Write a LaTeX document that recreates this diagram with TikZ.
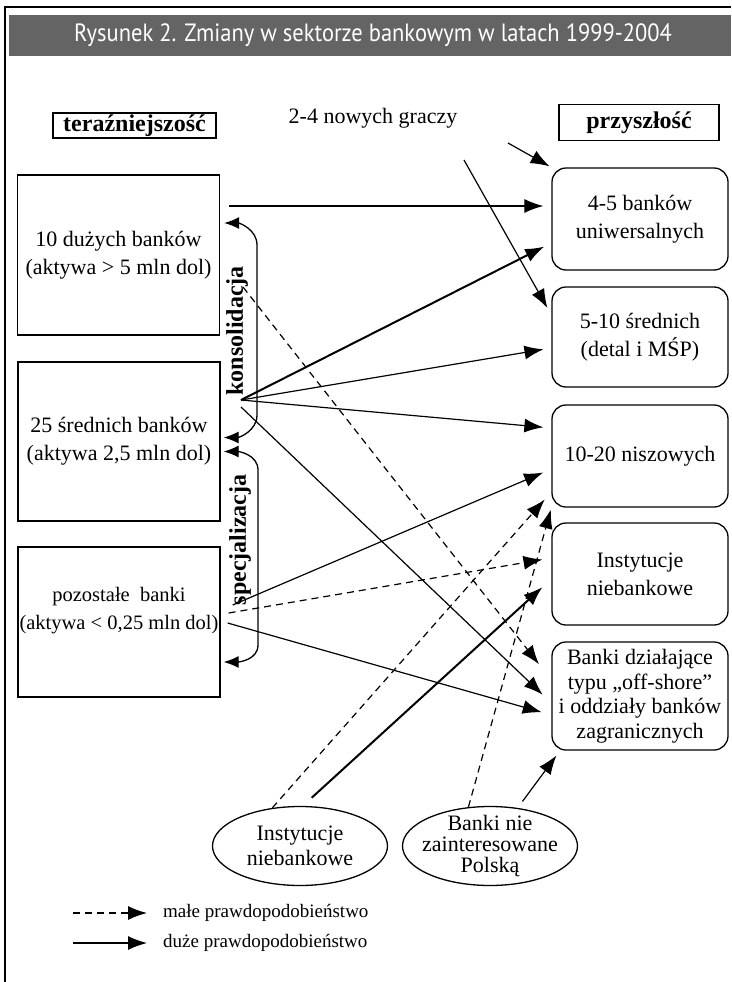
\documentclass[tikz,border=0pt]{standalone}
\usepackage{fontspec}
\setmainfont{Liberation Serif}
\newfontfamily\titlefont[FakeStretch=0.9]{PT Sans}
\usetikzlibrary{positioning,arrows.meta,shapes.geometric}
\definecolor{bandgray}{HTML}{646464}

\begin{document}
\begin{tikzpicture}[x=1pt,y=-1pt,
  every node/.style={font=\fontsize{22}{28}\selectfont},
  now/.style={draw,line width=1.3pt,minimum width=202pt,inner sep=0pt,align=center},
  later/.style={draw,line width=1.3pt,rounded corners=14pt,minimum width=176pt,
    inner sep=0pt,align=center},
  src/.style={draw,ellipse,line width=1.3pt,minimum width=175pt,minimum height=79pt,
    inner xsep=-8pt,inner ysep=-5pt,align=center},
  hdr/.style={draw,line width=1.1pt,inner sep=0pt,font=\fontsize{24}{28}\selectfont\bfseries},
  arr/.style={-{Latex[length=19pt,width=14pt]},line width=1.2pt,shorten >=8pt},
  big/.style={arr,line width=2pt},
  weak/.style={arr,dash pattern=on 7pt off 5pt},
  brace/.style={{Latex[length=15pt,width=12pt]}-{Latex[length=15pt,width=12pt]},line width=1.3pt},
  lbl/.style={font=\fontsize{24}{28}\selectfont\bfseries,rotate=90}]
\useasboundingbox (0,0) rectangle (731,982);

% --- frame and title band ---
\draw[line width=1.2pt] (5,982) -- (5,7) -- (731,7);
\fill[bandgray] (9,15) rectangle (731,56);
\node[font=\fontsize{25}{28}\titlefont,text=white] (title) at (373,35)
  {Rysunek 2. Zmiany w sektorze bankowym w latach 1999-2004};

% --- column heads ---
\node[hdr,minimum width=163pt,minimum height=25pt] (present) at (134.5,125.5) {teraźniejszość};
\node[hdr,minimum width=160pt,minimum height=36pt] (future) at (639,122.5) {przyszłość};
\node (players) at (373,118) {2-4 nowych graczy};

% --- today ---
\node[now,minimum height=160pt] (big10) at (118.5,255) {10 dużych banków\\(aktywa > 5 mln dol)};
\node[now,minimum height=159pt] (mid25) at (119,441.5) {25 średnich banków\\(aktywa 2,5 mln dol)};
\node[now,minimum height=150pt,text depth=27pt,font=\fontsize{20.5}{28}\selectfont] (rest) at (119,622)
  {pozostałe\ \ banki\\(aktywa < 0,25 mln dol)};

% --- tomorrow ---
\node[later,minimum height=102pt] (univ) at (640,219) {4-5 banków\\uniwersalnych};
\node[later,minimum height=100pt] (retail) at (640,337) {5-10 średnich\\(detal i MŚP)};
\node[later,minimum height=102pt] (niche) at (640,456) {10-20 niszowych};
\node[later,minimum height=102pt] (nonbank) at (640,574) {Instytucje\\niebankowe};
\node[later,minimum height=108pt,font=\fontsize{22}{24.5}\selectfont] (offshore) at (640,696)
  {Banki działające\\typu „off-shore”\\i oddziały banków\\zagranicznych};

% --- outside entrants ---
\node[src,font=\fontsize{22}{25}\selectfont] (nbi) at (300,846) {Instytucje\\niebankowe};
\node[src,font=\fontsize{22}{21}\selectfont] (foreign) at (490,846)
  {Banki nie\\zainteresowane\\Polską};

% --- brackets ---
\draw[brace] ([xshift=4pt,yshift=32pt]big10.east) to[out=0,in=90] (257,245) -- (257,415)
  to[out=-90,in=0] ([xshift=3pt,yshift=4pt]mid25.east);
\draw[brace] ([xshift=3pt,yshift=-10pt]mid25.east) to[out=0,in=90] (258,470) -- (258,645)
  to[out=-90,in=0] ([xshift=3pt,yshift=-40pt]rest.east);
\node[lbl] (kons) at (237,331) {konsolidacja};
\node[lbl] (spec) at (240,540) {specjalizacja};

% --- arrows ---
\coordinate (g1) at (508,143);
\coordinate (g2) at (464,160);
\coordinate (fan) at (241,400);
\coordinate (hint) at (243,287);

\draw[arr,shorten <=9pt] ([yshift=49pt]big10.east) -- ([yshift=13pt]univ.west);
\draw[arr,shorten >=2pt] (g1) -- (univ.north west);
\draw[arr] (g2) -- ([yshift=22pt]retail.west);
\draw[big] (fan) -- ([yshift=-24pt]univ.west);
\draw[arr] (fan) -- ([yshift=-11pt]retail.west);
\draw[arr] (fan) -- ([yshift=28pt]niche.west);
\draw[arr,shorten >=12pt] ([yshift=-7pt]fan) -- ([yshift=-7pt]offshore.west);
\draw[weak,shorten >=20pt] (hint) -- ([yshift=16pt]offshore.west);

\draw[arr,shorten >=9pt] ([xshift=12pt,yshift=17pt]rest.east) -- ([yshift=-13pt]niche.west);
\draw[weak,shorten >=9pt] ([xshift=8pt,yshift=9pt]rest.east) -- ([yshift=16pt]nonbank.west);
\draw[arr,shorten >=10pt] ([xshift=7pt,yshift=-1pt]rest.east) -- ([yshift=-19pt]offshore.west);

\draw[weak,shorten >=10pt] (nbi.126) -- ([yshift=-36pt]niche.west);
\draw[big,shorten <=12pt,shorten >=12pt] (nbi.86) -- ([yshift=-5pt]nonbank.west);
\draw[weak,shorten >=2pt] (foreign.119) -- (niche.south west);
\draw[arr,shorten <=8pt,shorten >=6pt] (foreign.54) -- ([xshift=-80pt]offshore.south);

% --- legend ---
\coordinate (lm) at (73,913);
\coordinate (ld) at (73,943);
\node[anchor=west,inner sep=0pt,font=\fontsize{19}{22}\selectfont] (small) at (163,913)
  {małe prawdopodobieństwo};
\node[anchor=west,inner sep=0pt,font=\fontsize{19}{22}\selectfont] (high) at (163,943)
  {duże prawdopodobieństwo};
\draw[weak,shorten >=16pt] (lm) -- (small.west);
\draw[arr,shorten >=16pt] (ld) -- (high.west);
\end{tikzpicture}
\end{document}
